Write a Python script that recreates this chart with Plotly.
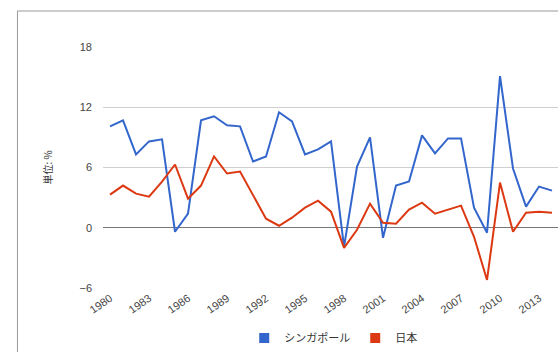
import plotly.graph_objects as go

# Annual real GDP growth (%), 1980-2014
years = list(range(1980, 2015))
singapore = [10.1, 10.7, 7.3, 8.6, 8.8, -0.4, 1.4, 10.7, 11.1, 10.2,
             10.1, 6.6, 7.1, 11.5, 10.6, 7.3, 7.8, 8.6, -1.9, 6.1,
             9.0, -1.0, 4.2, 4.6, 9.2, 7.4, 8.9, 8.9, 2.0, -0.5,
             15.1, 5.9, 2.1, 4.1, 3.7]
japan = [3.3, 4.2, 3.4, 3.1, 4.6, 6.3, 2.9, 4.2, 7.1, 5.4,
         5.6, 3.2, 0.9, 0.2, 1.0, 2.0, 2.7, 1.6, -2.0, -0.2,
         2.4, 0.5, 0.4, 1.8, 2.5, 1.4, 1.8, 2.2, -0.9, -5.2,
         4.5, -0.4, 1.5, 1.6, 1.5]

series_names = ["シンガポール", "日本"]
series_colors = ["#3366cc", "#dc3912"]

x_ticks = list(range(1980, 2014, 3))
y_ticks = [-6, 0, 6, 12, 18]

font_family = "Liberation Sans, Arial, Noto Sans CJK JP, sans-serif"

fig = go.Figure()
for name, vals, color in zip(series_names, [singapore, japan], series_colors):
    fig.add_trace(go.Scatter(
        x=years, y=vals, mode="lines", name=name,
        line=dict(color=color, width=2), showlegend=False,
    ))
    # square legend swatch
    fig.add_trace(go.Scatter(
        x=[None], y=[None], mode="markers", name=name,
        marker=dict(symbol="square", size=10, color=color),
        showlegend=True,
    ))

fig.update_layout(
    width=558, height=352,
    margin=dict(l=103, r=0, t=46, b=63, autoexpand=False),
    paper_bgcolor="white", plot_bgcolor="white",
    font=dict(family=font_family, color="#444", size=10),
    legend=dict(
        orientation="h", xref="paper", x=0.506, xanchor="center",
        yref="container", y=0.04, yanchor="middle",
        font=dict(family="Noto Sans CJK JP, sans-serif", size=11, color="#333"),
        itemwidth=30, tracegroupgap=0,
    ),
    annotations=[dict(
        text="単位: %", xref="paper", yref="paper",
        x=-0.123, y=0.5, xanchor="center", yanchor="middle",
        textangle=-90, showarrow=False,
        font=dict(family="Noto Sans CJK JP, sans-serif", size=10, color="#333"),
    )],
    shapes=[dict(
        type="rect", xref="paper", yref="paper",
        x0=-0.188, x1=1.2, y0=-0.5, y1=1.144,
        line=dict(color="#999", width=1), layer="above",
    )],
)

fig.update_xaxes(
    range=[1979.46, 2014.46], tickvals=x_ticks,
    ticktext=[str(v) for v in x_ticks], tickangle=-35,
    showgrid=False, showline=False, zeroline=False,
    tickfont=dict(size=11, color="#444"),
)
fig.update_yaxes(
    range=[-6.1, 18.1], tickvals=y_ticks,
    showgrid=True, gridcolor="#d0d0d0", gridwidth=1,
    zeroline=True, zerolinecolor="#777", zerolinewidth=1,
    showline=False, ticklabelstandoff=10,
    tickfont=dict(size=11, color="#444"),
)

fig.write_html("out.html")
